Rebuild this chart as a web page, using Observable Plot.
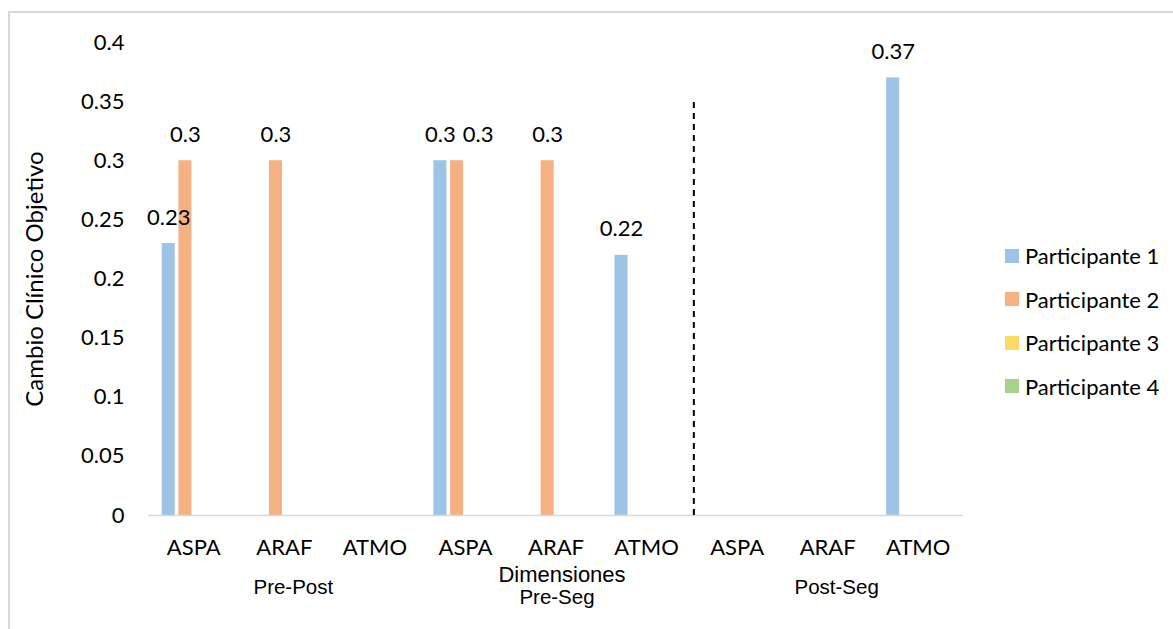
<!DOCTYPE html>
<html>
<head>
<meta charset="utf-8">
<script src="https://cdn.jsdelivr.net/npm/d3@7"></script>
<script src="https://cdn.jsdelivr.net/npm/@observablehq/plot@0.6"></script>
<style>
  html, body { margin: 0; padding: 0; background: #fff; }
  #wrap { position: relative; width: 1173px; height: 629px; overflow: hidden; background: #fff; }
  #border { position: absolute; left: 8px; top: 11px; width: 1200px; height: 700px; border: 2px solid #d9d9d9; }
  #chart { position: absolute; left: 0; top: 0; }
  #ytitle { position: absolute; left: 33px; top: 279px; transform: translate(-50%, -50%) rotate(-90deg);
            font-family: Lato, sans-serif; font-size: 24px; color: #000; white-space: nowrap; }
  #legend { position: absolute; left: 1005px; top: 234px; font-family: Lato, sans-serif; font-size: 22px; color: #000; }
  .item { display: flex; align-items: center; height: 43.5px; white-space: nowrap; }
  .sw { width: 14px; height: 14px; margin-right: 6px; }
</style>
</head>
<body>
<div id="wrap">
  <div id="border"></div>
  <div id="chart"></div>
  <div id="ytitle">Cambio Clínico Objetivo</div>
  <div id="legend"></div>
</div>
<script>
const periods = ["Pre-Post", "Pre-Seg", "Post-Seg"];
const dims = ["ASPA", "ARAF", "ATMO"];
const participants = ["Participante 1", "Participante 2", "Participante 3", "Participante 4"];
const colors = ["#9dc3e6", "#f4b183", "#ffd966", "#a9d18e"];
// values per category in order: Pre-Post ASPA, ARAF, ATMO, Pre-Seg ASPA, ARAF, ATMO, Post-Seg ASPA, ARAF, ATMO
const p1 = [0.23, 0, 0, 0.3, 0, 0.22, 0, 0, 0.37];
const p2 = [0.3, 0.3, 0, 0.3, 0.3, 0, 0, 0, 0];
const p3 = [0, 0, 0, 0, 0, 0, 0, 0, 0];
const p4 = [0, 0, 0, 0, 0, 0, 0, 0, 0];
const yTicks = [0, 0.05, 0.1, 0.15, 0.2, 0.25, 0.3, 0.35, 0.4];
const axisTitle = "Dimensiones";

const keys = periods.flatMap(p => dims.map(d => p + "|" + d));
const series = [p1, p2, p3, p4];
const data = [];
keys.forEach((k, i) => participants.forEach((p, j) => data.push({key: k, participant: p, value: series[j][i]})));
const shown = data.filter(d => d.value > 0);
const fmt = v => String(+v.toFixed(2));
// a label that would collide with its left neighbour (same height) is nudged right, as the original does
const collides = d => shown.some(e => e.key === d.key && e.value === d.value &&
  participants.indexOf(e.participant) === participants.indexOf(d.participant) - 1);
const labelsA = shown.filter(d => !collides(d));
const labelsB = shown.filter(d => collides(d));

const W = 1000, H = 629, ML = 148, MR = 37, MT = 42, MB = 114;
const facetW = (W - ML - MR) / keys.length;
const groupFont = "'Liberation Sans', Arial, sans-serif";

const chart = Plot.plot({
  width: W, height: H,
  marginLeft: ML, marginRight: MR, marginTop: MT, marginBottom: MB,
  style: {fontFamily: "Lato, sans-serif", fontSize: "22px", color: "#000", background: "transparent", overflow: "visible"},
  fx: {domain: keys, padding: 0, round: false, label: null, axis: "bottom", tickSize: 0, tickPadding: 24, tickFormat: k => k.split("|")[1]},
  x: {domain: participants, axis: null, round: false, paddingInner: 0.22, paddingOuter: 0.82},
  y: {domain: [0, 0.4], axis: null},
  color: {domain: participants, range: colors},
  marks: [
    Plot.axisY({ticks: yTicks, tickFormat: fmt, tickSize: 0, tickPadding: 24, label: null, facetAnchor: "left"}),
    Plot.barY(shown, {fx: "key", x: "participant", y: "value", fill: "participant"}),
    Plot.ruleY(keys, {fx: d => d, y: 0, stroke: "#d9d9d9", strokeWidth: 1.5}),
    Plot.text(labelsA, {fx: "key", x: "participant", y: "value", text: d => fmt(d.value), dy: -26, lineAnchor: "middle", fill: "#000"}),
    Plot.text(labelsB, {fx: "key", x: "participant", y: "value", text: d => fmt(d.value), dy: -26, dx: 21, lineAnchor: "middle", fill: "#000"}),
    Plot.ruleX([keys[6]], {fx: d => d, x: null, y1: 0, y2: 0.35, dx: -facetW / 2 + 2, stroke: "#000", strokeWidth: 2, strokeDasharray: "6,5"}),
    Plot.text(periods.filter(p => p !== "Pre-Seg"), {fx: p => p + "|ARAF", frameAnchor: "bottom", dy: 72, dx: 9, text: d => d, lineAnchor: "middle", fontFamily: groupFont, fontSize: 20.5}),
    Plot.text(periods.filter(p => p === "Pre-Seg"), {fx: p => p + "|ARAF", frameAnchor: "bottom", dy: 82, dx: 1, text: d => d, lineAnchor: "middle", fontFamily: groupFont, fontSize: 20.5}),
    Plot.text([axisTitle], {fx: () => keys[4], frameAnchor: "bottom", dy: 59, dx: 6, text: d => d, lineAnchor: "middle", fontFamily: groupFont, fontSize: 22})
  ]
});
document.getElementById("chart").appendChild(chart);

const legend = document.getElementById("legend");
participants.forEach((p, i) => {
  const row = document.createElement("div");
  row.className = "item";
  const sw = document.createElement("div");
  sw.className = "sw";
  sw.style.background = colors[i];
  const t = document.createElement("span");
  t.textContent = p;
  row.appendChild(sw); row.appendChild(t);
  legend.appendChild(row);
});
</script>
</body>
</html>
